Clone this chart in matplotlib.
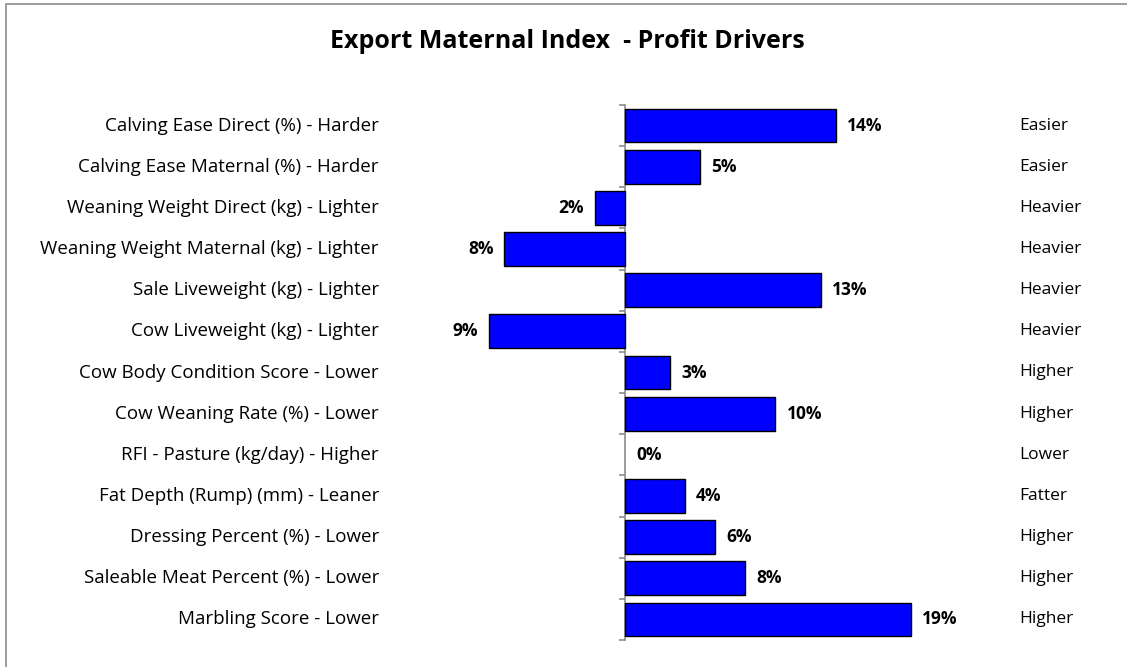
import matplotlib
matplotlib.use("Agg")
import matplotlib.pyplot as plt
from matplotlib.patches import Rectangle
import matplotlib.transforms as mtransforms

traits = [
    "Calving Ease Direct (%) - Harder",
    "Calving Ease Maternal (%) - Harder",
    "Weaning Weight Direct (kg) - Lighter",
    "Weaning Weight Maternal (kg) - Lighter",
    "Sale Liveweight (kg) - Lighter",
    "Cow Liveweight (kg) - Lighter",
    "Cow Body Condition Score - Lower",
    "Cow Weaning Rate (%) - Lower",
    "RFI - Pasture (kg/day) - Higher",
    "Fat Depth (Rump) (mm) - Leaner",
    "Dressing Percent (%) - Lower",
    "Saleable Meat Percent (%) - Lower",
    "Marbling Score - Lower",
]
values = [14, 5, -2, -8, 13, -9, 3, 10, 0, 4, 6, 8, 19]
right_labels = ["Easier", "Easier", "Heavier", "Heavier", "Heavier", "Heavier",
                "Higher", "Higher", "Lower", "Fatter", "Higher", "Higher", "Higher"]
title = "Export Maternal Index  - Profit Drivers"

W, H = 1127, 667
fig = plt.figure(figsize=(W / 100, H / 100), dpi=100)
plt.rcParams['font.family'] = ['Open Sans', 'DejaVu Sans']

# outer chart border (left/top visible)
fig.patches.append(Rectangle((6 / W, -0.1), 1.2, 1 - 4 / H + 0.1, transform=fig.transFigure,
                             fill=False, edgecolor='#8c8c8c', linewidth=1.2))

x_left, x_right = 384, 926
y_top, y_bot = 105, 640
ax = fig.add_axes([x_left / W, 1 - y_bot / H, (x_right - x_left) / W, (y_bot - y_top) / H])
ax.set_xlim(-16, 20)
n = len(values)
ax.set_ylim(n - 0.5, -0.5)

ypos = list(range(n))
lws = [1.0 if v != 0 else 0 for v in values]
ax.barh(ypos, values, height=0.82, color='#0000FF', edgecolor='black', linewidth=lws, zorder=3)

for s in ['top', 'right', 'bottom']:
    ax.spines[s].set_visible(False)
ax.spines['left'].set_position(('data', 0))
ax.spines['left'].set_color('#8c8c8c')
ax.spines['left'].set_linewidth(1.2)
ax.set_xticks([])
ax.set_yticks([i - 0.5 for i in range(n + 1)])
ax.set_yticklabels([])
ax.tick_params(axis='y', length=4, width=1.2, color='#8c8c8c', direction='out')
ax.patch.set_visible(False)

off = mtransforms.ScaledTranslation(11 / 100, 0, fig.dpi_scale_trans)
offn = mtransforms.ScaledTranslation(-11 / 100, 0, fig.dpi_scale_trans)
for i, v in enumerate(values):
    if v >= 0:
        ax.text(v, i, f"{v}%", ha='left', va='center', fontsize=12.5, fontweight='bold',
                transform=ax.transData + off)
    else:
        ax.text(v, i, f"{-v}%", ha='right', va='center', fontsize=12.5, fontweight='bold',
                transform=ax.transData + offn)

tl = mtransforms.blended_transform_factory(fig.transFigure, ax.transData)
for i, t in enumerate(traits):
    ax.text(379 / W, i, t, ha='right', va='center', fontsize=13.5, transform=tl)
for i, t in enumerate(right_labels):
    ax.text(1019 / W, i, t, ha='left', va='center', fontsize=12.5, transform=tl)

fig.text(567 / W, 1 - 41 / H, title, ha='center', va='center', fontsize=18, fontweight='bold')

fig.savefig("out.png", dpi=100)
